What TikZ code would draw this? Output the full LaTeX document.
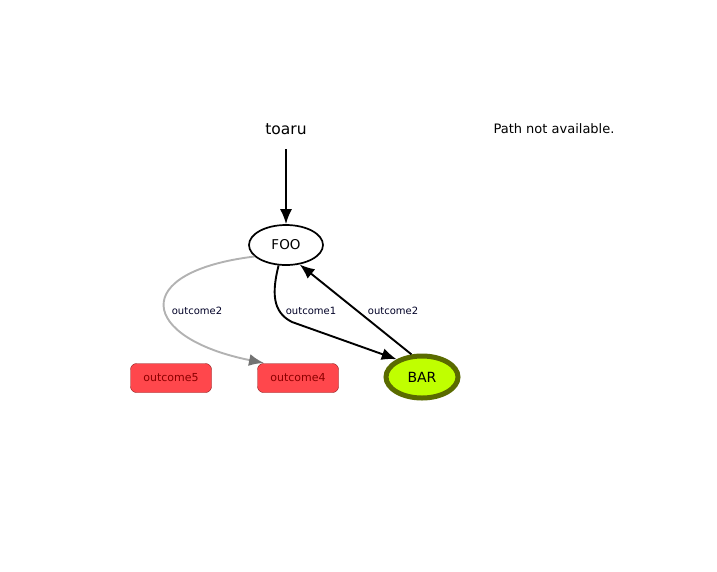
\documentclass[tikz,border=0pt]{standalone}
\usepackage{fontspec}
\setmainfont{DejaVu Sans}
\usetikzlibrary{arrows.meta,shapes.geometric}
\definecolor{boxred}{HTML}{FF474C}
\definecolor{boxedge}{HTML}{8B1A1A}
\definecolor{boxtext}{HTML}{8B0000}
\definecolor{limefill}{HTML}{C0FF00}
\definecolor{olive}{HTML}{5A6B00}
\tikzset{
  blackedge/.style={-{Latex[length=15pt,width=12pt]},draw=black,line width=1.9pt},
  grayedge/.style={-{Latex[length=15pt,width=12pt,fill=black!55,color=black!55]},draw=black!30,line width=1.9pt},
  elabel/.style={font=\fontsize{10}{11}\selectfont,text=black!85!blue},
  outbox/.style={draw=boxedge,fill=boxred,rounded corners=6pt,minimum width=81pt,minimum height=29pt,inner sep=0pt,text=boxtext,font=\fontsize{11}{13}\selectfont},
  statenode/.style={ellipse,draw=black,line width=1.7pt,fill=white,minimum width=74pt,minimum height=40pt,inner sep=0pt,font=\fontsize{13.5}{15}\selectfont}
}
\begin{document}
\begin{tikzpicture}[x=1pt,y=-1pt]
\useasboundingbox (0,0) rectangle (717,571);
\node[font=\fontsize{15.5}{18}\selectfont] (toaru) at (286,129) {toaru};
\node[font=\fontsize{13}{15}\selectfont] (path) at (554,129) {Path not available.};
\node[statenode] (foo) at (286,245) {FOO};
\node[ellipse,draw=olive,line width=5pt,fill=limefill,minimum width=72pt,minimum height=42pt,inner sep=0pt,font=\fontsize{14}{16}\selectfont] (bar) at (422,377) {BAR};
\node[outbox] (o5) at (171,378) {outcome5};
\node[outbox] (o4) at (298,378) {outcome4};
\coordinate (tstart) at (286,149);
\coordinate (gend) at (264,363);
\draw[blackedge] (tstart) -- (foo.north);
\draw[grayedge] (foo.200) .. controls (128,272) and (140,338) .. (gend);
\draw[blackedge] (foo.250) .. controls (272,292) and (272,312) .. (292,322) -- (bar.145);
\draw[blackedge] (bar.115) -- (foo.-55);
\node[elabel] (l1) at (197,311) {outcome2};
\node[elabel] (l2) at (311,311) {outcome1};
\node[elabel] (l3) at (393,311) {outcome2};
\end{tikzpicture}
\end{document}
